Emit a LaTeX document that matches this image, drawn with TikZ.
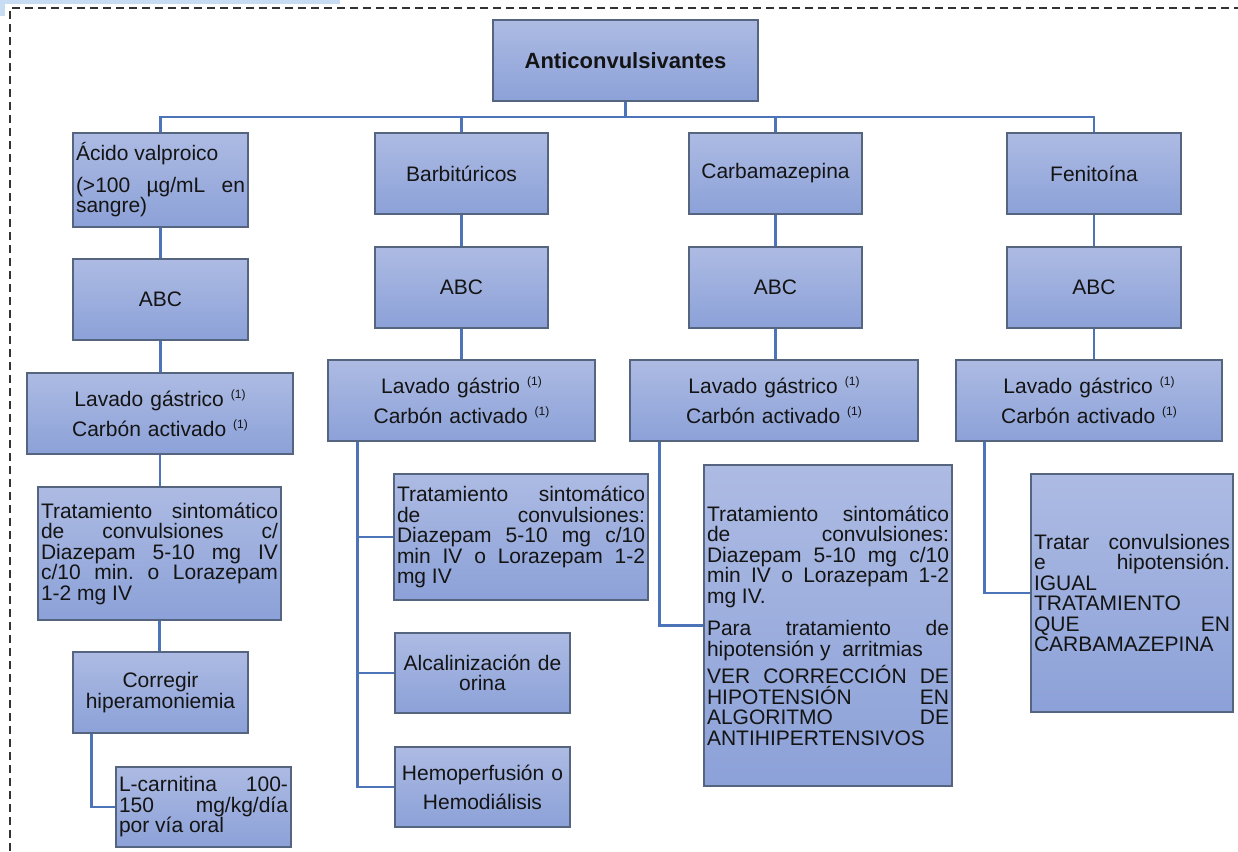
\documentclass[tikz,border=0pt]{standalone}
\usepackage{fontspec}
\setmainfont{Liberation Sans}
\usetikzlibrary{calc}
\setlength{\parindent}{0pt}
\frenchspacing
\definecolor{boxtop}{HTML}{ADBBE3}
\definecolor{boxbot}{HTML}{8CA1D8}
\definecolor{boxline}{HTML}{56657F}
\definecolor{linkblue}{HTML}{4D74B8}
\definecolor{tabblue}{HTML}{C8DDF3}
\newcommand{\nota}{\raisebox{8pt}{\fontsize{12}{12}\selectfont(1)}}

\begin{document}
\begin{tikzpicture}[x=1pt,y=-1pt,
  box/.style={draw=boxline,line width=1.3pt,top color=boxtop,bottom color=boxbot,
    inner xsep=3pt,inner ysep=1pt,text=black!92,align=center,
    font=\fontsize{21}{20.5}\selectfont},
  jbox/.style={box,align=justify},
  link/.style={draw=linkblue,line width=2.3pt},
  frame/.style={draw=black!80,line width=1.4pt,dash pattern=on 8pt off 5pt}]
  \useasboundingbox (0,0) rectangle (1238,851);
  \fill[tabblue] (0,0) rectangle (340,4);
  \fill[tabblue] (0,0) rectangle (5,16);
  \draw[frame] (10,851) -- (10,8) -- (1238,8);

  % top level
  \node[box,text width=259pt,minimum height=81pt,font=\fontsize{22}{22}\selectfont\bfseries] (top) at (625.5,60.5) {Anticonvulsivantes};
  \node[jbox,text width=169pt,minimum height=94pt] (val) at (160.5,180) {Ácido valproico\par\vskip 11pt(>100 µg/mL en\linebreak sangre)};
  \node[box,text width=167pt,minimum height=81pt] (bar) at (461.5,173.5) {Barbitúricos};
  \node[box,text width=167pt,minimum height=81pt] (car) at (775.5,173.5) {Carbamazepina};
  \node[box,text width=168pt,minimum height=81pt] (fen) at (1094,173.5) {Fenitoína};

  % ABC
  \node[box,text width=169pt,minimum height=81pt] (abc1) at (160.5,299.5) {ABC};
  \node[box,text width=167pt,minimum height=81pt] (abc2) at (461.5,287.5) {ABC};
  \node[box,text width=167pt,minimum height=81pt] (abc3) at (775.5,287.5) {ABC};
  \node[box,text width=168pt,minimum height=81pt] (abc4) at (1094,287.5) {ABC};

  % lavado
  \node[box,text width=260pt,minimum height=81pt] (lav1) at (160,413.5) {Lavado gástrico \nota\\[7.5pt]Carbón activado \nota};
  \node[box,text width=261pt,minimum height=81pt] (lav2) at (461.5,400.5) {Lavado gástrio \nota\\[7.5pt]Carbón activado \nota};
  \node[box,text width=282pt,minimum height=81pt] (lav3) at (774,400.5) {Lavado gástrico \nota\\[7.5pt]Carbón activado \nota};
  \node[box,text width=260pt,minimum height=81pt] (lav4) at (1089,400.5) {Lavado gástrico \nota\\[7.5pt]Carbón activado \nota};

  % tratamiento
  \node[jbox,text width=237pt,minimum height=133pt] (trat1) at (159.5,553.5) {Tratamiento sintomático\linebreak de convulsiones c/\linebreak Diazepam 5-10 mg IV\linebreak c/10 min. o Lorazepam\linebreak 1-2 mg IV};
  \node[box,text width=169pt,minimum height=81pt] (cor) at (160.5,692.5) {Corregir\\hiperamoniemia};
  \node[jbox,text width=169pt,minimum height=80pt] (lcar) at (203.5,807) {L-carnitina 100-\linebreak 150 mg/kg/día\linebreak por vía oral};
  \node[jbox,text width=248pt,minimum height=126pt] (trat2) at (521,537) {Tratamiento sintomático\linebreak de convulsiones:\linebreak Diazepam 5-10 mg c/10\linebreak min IV o Lorazepam 1-2\linebreak mg IV};
  \node[box,text width=169pt,minimum height=80pt] (alc) at (482.5,673) {Alcalinización de\\orina};
  \node[box,text width=169pt,minimum height=80pt] (hem) at (482.5,787) {Hemoperfusión o\\[8.5pt]Hemodiálisis};
  \node[jbox,text width=242pt,minimum height=321pt] (trat3) at (828,625.5) {Tratamiento sintomático\linebreak de convulsiones:\linebreak Diazepam 5-10 mg c/10\linebreak min IV o Lorazepam 1-2\linebreak mg IV.\par\vskip 12pt Para tratamiento de\linebreak hipotensión y \ arritmias\par\vskip 4pt VER CORRECCIÓN DE\linebreak HIPOTENSIÓN EN\linebreak ALGORITMO DE\linebreak ANTIHIPERTENSIVOS};
  \node[jbox,text width=196pt,minimum height=238pt] (trat4) at (1132,593) {Tratar convulsiones\linebreak e hipotensión.\linebreak IGUAL\newline TRATAMIENTO\newline QUE EN\linebreak CARBAMAZEPINA};

  % connectors
  \coordinate (bus) at (628,117);
  \draw[link] (top.south) -- (top.south |- bus);
  \draw[link] (val.north) |- (bus) -| (fen.north);
  \draw[link] (bar.north) -- (bar.north |- bus);
  \draw[link] (car.north) -- (car.north |- bus);
  \foreach \a/\b in {val/abc1,abc1/lav1,lav1/trat1,trat1/cor,bar/abc2,abc2/lav2,car/abc3,abc3/lav3,fen/abc4,abc4/lav4}
    \draw[link] (\a.south) -- (\a.south |- \b.north);
  \draw[link] ([xshift=19pt]cor.south west) |- (lcar.west);
  \coordinate (bspine) at ([xshift=30pt]lav2.south west);
  \draw[link] (bspine) |- (trat2.west);
  \draw[link] (bspine) |- (alc.west);
  \draw[link] (bspine) |- (hem.west);
  \draw[link] ([xshift=30pt]lav3.south west) |- (trat3.west);
  \draw[link] ([xshift=29pt]lav4.south west) |- (trat4.west);
\end{tikzpicture}
\end{document}
